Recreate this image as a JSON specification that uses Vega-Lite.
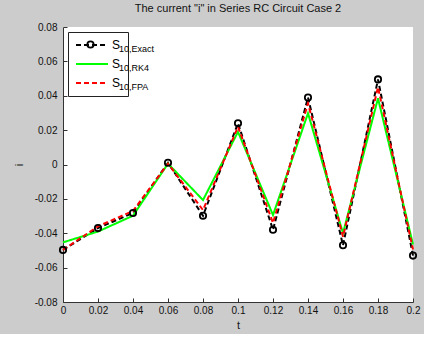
{
  "$schema": "https://vega.github.io/schema/vega-lite/v6.json",
  "width": 350,
  "height": 275,
  "autosize": {"type": "none"},
  "padding": {"left": 63, "top": 27, "right": 11, "bottom": 32},
  "background": "#cccccc",
  "title": {"text": "The current \"i\" in Series RC Circuit Case 2", "font": "Liberation Sans", "fontSize": 11, "fontWeight": "normal", "color": "#111", "offset": 8},
  "config": {
    "view": {"stroke": null, "fill": "white"},
    "axis": {"grid": false, "domainColor": "#333", "tickColor": "#333", "tickSize": -4, "labelFont": "Liberation Sans", "labelFontSize": 10, "labelColor": "#111", "titleFont": "Liberation Sans", "titleFontSize": 11, "titleFontWeight": "normal", "titleColor": "#111"}
  },
  "data": {"values": [
    {"t": 0.00, "i": -0.0497, "series": "Exact"},
    {"t": 0.02, "i": -0.0370, "series": "Exact"},
    {"t": 0.04, "i": -0.0282, "series": "Exact"},
    {"t": 0.06, "i": 0.0010, "series": "Exact"},
    {"t": 0.08, "i": -0.0298, "series": "Exact"},
    {"t": 0.10, "i": 0.0240, "series": "Exact"},
    {"t": 0.12, "i": -0.0380, "series": "Exact"},
    {"t": 0.14, "i": 0.0390, "series": "Exact"},
    {"t": 0.16, "i": -0.0470, "series": "Exact"},
    {"t": 0.18, "i": 0.0495, "series": "Exact"},
    {"t": 0.20, "i": -0.0530, "series": "Exact"},
    {"t": 0.00, "i": -0.0453, "series": "RK4"},
    {"t": 0.02, "i": -0.0390, "series": "RK4"},
    {"t": 0.04, "i": -0.0298, "series": "RK4"},
    {"t": 0.06, "i": 0.0005, "series": "RK4"},
    {"t": 0.08, "i": -0.0207, "series": "RK4"},
    {"t": 0.10, "i": 0.0190, "series": "RK4"},
    {"t": 0.12, "i": -0.0294, "series": "RK4"},
    {"t": 0.14, "i": 0.0298, "series": "RK4"},
    {"t": 0.16, "i": -0.0400, "series": "RK4"},
    {"t": 0.18, "i": 0.0385, "series": "RK4"},
    {"t": 0.20, "i": -0.0465, "series": "RK4"},
    {"t": 0.00, "i": -0.0497, "series": "FPA"},
    {"t": 0.02, "i": -0.0360, "series": "FPA"},
    {"t": 0.04, "i": -0.0270, "series": "FPA"},
    {"t": 0.06, "i": 0.0005, "series": "FPA"},
    {"t": 0.08, "i": -0.0265, "series": "FPA"},
    {"t": 0.10, "i": 0.0220, "series": "FPA"},
    {"t": 0.12, "i": -0.0340, "series": "FPA"},
    {"t": 0.14, "i": 0.0356, "series": "FPA"},
    {"t": 0.16, "i": -0.0420, "series": "FPA"},
    {"t": 0.18, "i": 0.0450, "series": "FPA"},
    {"t": 0.20, "i": -0.0495, "series": "FPA"}
  ]},
  "encoding": {
    "x": {"field": "t", "type": "quantitative", "scale": {"domain": [0, 0.2], "nice": false, "zero": false},
      "axis": {"title": "t", "values": [0, 0.02, 0.04, 0.06, 0.08, 0.1, 0.12, 0.14, 0.16, 0.18, 0.2], "labelExpr": "replace(format(datum.value, '.2~f'), '\u2212', '-')", "labelPadding": 7, "titlePadding": 4, "labelFlush": false}},
    "y": {"field": "i", "type": "quantitative", "scale": {"domain": [-0.08, 0.08], "nice": false, "zero": false},
      "axis": {"title": "i", "values": [-0.08, -0.06, -0.04, -0.02, 0, 0.02, 0.04, 0.06, 0.08], "labelExpr": "replace(format(datum.value, '.2~f'), '\u2212', '-')", "labelPadding": 10, "titlePadding": 10, "labelFlush": false}}
  },
  "layer": [
    {
      "mark": {"type": "line", "strokeWidth": 2},
      "encoding": {
        "color": {"field": "series", "type": "nominal", "scale": {"domain": ["Exact", "RK4", "FPA"], "range": ["#000000", "#00ff00", "#ff0000"]},
          "legend": {"orient": "none", "legendX": 5, "legendY": 5, "title": null, "direction": "vertical", "symbolType": "stroke", "symbolSize": 1024, "symbolStrokeWidth": 2, "clipHeight": 12, "labelExpr": "'S\u00a0\u00a0\u00a0\u00a0\u00a0\u00a0\u00a0\u00a0\u00a0\u00a0\u00a0\u00a0'", "labelFont": "Liberation Sans", "labelFontSize": 12, "labelColor": "#000", "labelOffset": 3, "fillColor": "white", "strokeColor": "#222", "padding": 7, "rowPadding": 7}},
        "strokeDash": {"field": "series", "type": "nominal", "scale": {"domain": ["Exact", "RK4", "FPA"], "range": [[5, 3], [1, 0], [5, 3]]},
          "legend": {"orient": "none", "legendX": 5, "legendY": 5, "title": null, "direction": "vertical", "symbolType": "stroke", "symbolSize": 1024, "symbolStrokeWidth": 2, "clipHeight": 12, "labelExpr": "'S\u00a0\u00a0\u00a0\u00a0\u00a0\u00a0\u00a0\u00a0\u00a0\u00a0\u00a0\u00a0'", "labelFont": "Liberation Sans", "labelFontSize": 12, "labelColor": "#000", "labelOffset": 3, "fillColor": "white", "strokeColor": "#222", "padding": 7, "rowPadding": 7}}
      }
    },
    {
      "transform": [{"filter": "datum.series === 'Exact'"}],
      "mark": {"type": "point", "filled": false, "color": "#000000", "size": 40, "strokeWidth": 1.8, "opacity": 1},
      "encoding": {
        "shape": {"datum": "10,Exact", "scale": {"domain": ["10,Exact", "10,RK4", "10,FPA"], "range": ["circle", "M0,0", "M0,0"]},
          "legend": {"orient": "none", "legendX": 23, "legendY": 13, "title": null, "direction": "vertical", "symbolSize": 40, "symbolStrokeWidth": 1.8, "symbolStrokeColor": "#000", "labelFont": "Liberation Sans", "labelFontSize": 9, "labelColor": "#000", "labelBaseline": "top", "labelOffset": 24, "padding": 0, "rowPadding": 5}}
      }
    }
  ]
}
